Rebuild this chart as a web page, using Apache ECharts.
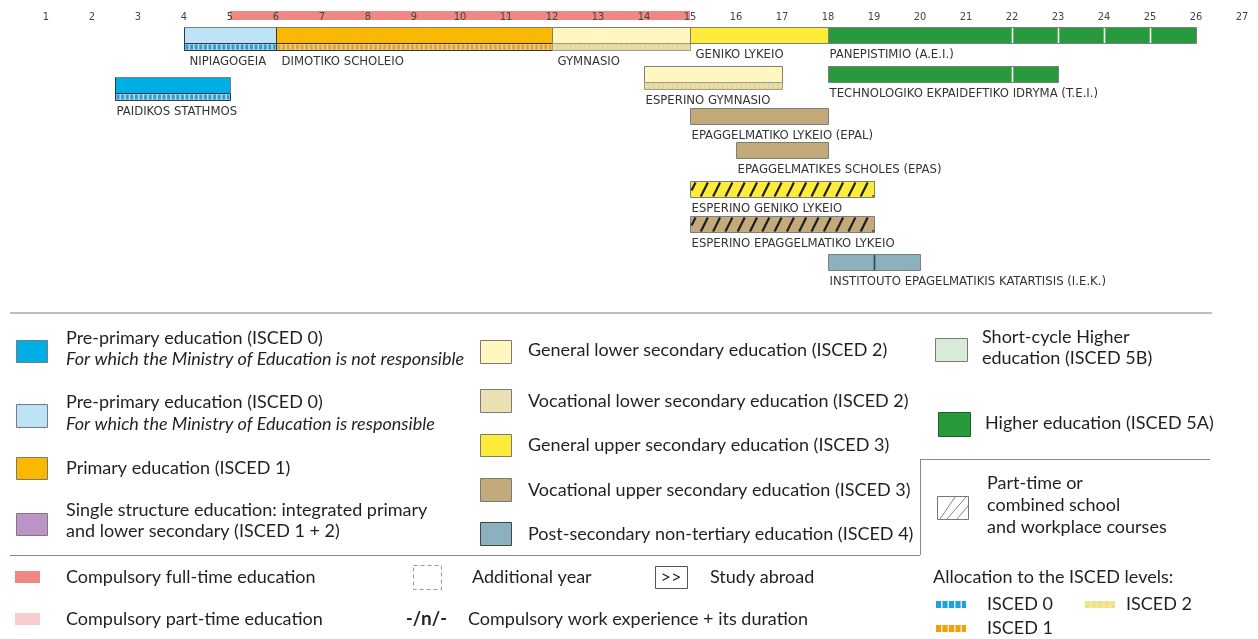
<!DOCTYPE html>
<html>
<head>
<meta charset="utf-8">
<script src="https://cdn.jsdelivr.net/npm/echarts@6/dist/echarts.min.js"></script>
<style>
  html, body { margin: 0; padding: 0; background: #fff; }
  #main { width: 1258px; height: 639px; }
</style>
</head>
<body>
<div id="main"></div>
<script>
// ages along the top axis
const ageLabels = ['1','2','3','4','5','6','7','8','9','10','11','12','13','14','15','16','17','18','19','20','21','22','23','24','25','26','27'];

// programmes (start age, end age, lane, ISCED level)
const programmes = [
  'NIPIAGOGEIA', 'DIMOTIKO SCHOLEIO', 'GYMNASIO', 'GENIKO LYKEIO', 'PANEPISTIMIO (A.E.I.)',
  'PAIDIKOS STATHMOS', 'ESPERINO GYMNASIO', 'TECHNOLOGIKO EKPAIDEFTIKO IDRYMA (T.E.I.)',
  'EPAGGELMATIKO LYKEIO (EPAL)', 'EPAGGELMATIKES SCHOLES (EPAS)', 'ESPERINO GENIKO LYKEIO',
  'ESPERINO EPAGGELMATIKO LYKEIO', 'INSTITOUTO EPAGELMATIKIS KATARTISIS (I.E.K.)'
];
const startAge = [4, 6, 12, 15, 18, 2.5, 14, 18, 15, 16, 15, 15, 18];
const endAge   = [6, 12, 15, 18, 26, 5, 17, 23, 18, 18, 19, 19, 20];
const lane     = [27, 27, 27, 27, 27, 77, 66, 66, 108, 142, 181, 216, 254];
const level    = ['0r', '1', '2g', '3g', '5a', '0n', '2g', '5a', '3v', '3v', '3g', '3v', '4'];
const allocation = ['0', '1', '2', '', '', '0', '2', '', '', '', '', '', ''];
const partTime = [0, 0, 0, 0, 0, 0, 0, 0, 0, 0, 1, 1, 0];
const yearMarks = [[], [], [], [], [22, 23, 24, 25], [], [], [22], [], [], [], [], [19]];

// compulsory full-time education
const compulsoryFull = [5, 15];

const fills = {
  '0n': '#00aee6', '0r': '#bde4f6', '1': '#fbb800', '12': '#bd94c7',
  '2g': '#fff7bf', '2v': '#ebdfb4', '3g': '#ffec3a', '3v': '#c2aa7b',
  '4': '#8ab1bd', '5b': '#d8ebd8', '5a': '#279b3c'
};
const dashColor = { '0': '#1aa3de', '1': '#f2a200', '2': '#f4e27c' };
const dashBorder = { '0': '#2b3a44', '1': '#3b3222', '2': '#a09c88' };

const BAR_H = 16, STRIPE_H = 7;

function hatchLines(x1, x2, y1, y2) {
  const h = y2 - y1, dx = h * 0.5, step = 12.3;
  const out = [];
  for (let xs = x1 - dx + 4; xs < x2; xs += step) {
    let ax = xs, ay = y2, bx = xs + dx, by = y1;
    if (ax < x1) { ay = y2 - (x1 - ax) / dx * h; ax = x1; }
    if (bx > x2) { by = y2 - (x2 - xs) / dx * h; bx = x2; }
    out.push({ type: 'line', shape: { x1: ax, y1: ay, x2: bx, y2: by },
      style: { stroke: '#1e1e1e', lineWidth: 2.2 } });
  }
  return out;
}

function renderProgramme(params, api) {
  const i = params.dataIndex;
  const a = api.coord([api.value(0), api.value(2)]);
  const b = api.coord([api.value(1), api.value(2)]);
  const x1 = Math.round(a[0]) + 0.5, x2 = Math.round(b[0]) + 0.5, y = Math.round(a[1]) + 0.5;
  const w = x2 - x1;
  const kids = [];
  kids.push({ type: 'rect', shape: { x: x1, y: y, width: w, height: BAR_H },
    style: { fill: fills[level[i]], stroke: '#7d7d7d', lineWidth: 1 } });
  if (partTime[i]) kids.push(...hatchLines(x1 + 1, x2 - 1, y + 1, y + BAR_H - 1));
  yearMarks[i].forEach(function (age) {
    const px = Math.round(api.coord([age, 0])[0]) + 0.5;
    kids.push({ type: 'line', shape: { x1: px, y1: y + 0.5, x2: px, y2: y + BAR_H - 0.5 },
      style: { stroke: level[i] === '4' ? '#2f4650' : '#ffffff', lineWidth: 1.6 } });
  });
  let bottom = y + BAR_H;
  const al = allocation[i];
  if (al) {
    kids.push({ type: 'rect', shape: { x: x1, y: bottom, width: w, height: STRIPE_H },
      style: { fill: '#d2d2d2', stroke: dashBorder[al], lineWidth: 1 } });
    kids.push({ type: 'line', shape: { x1: x1 + 1, y1: bottom + 3.5, x2: x2 - 1, y2: bottom + 3.5 },
      style: { stroke: dashColor[al], lineWidth: 5, lineDash: [3, 1.6] } });
    if (al !== '2') {
      kids.push({ type: 'line', shape: { x1: x1, y1: y, x2: x1, y2: bottom + STRIPE_H },
        style: { stroke: dashBorder[al], lineWidth: 1 } });
    }
    bottom += STRIPE_H;
  }
  const indent = api.value(2) < 40 && api.value(0) < 18 ? 5 : 1;
  kids.push({ type: 'text', x: x1 + indent, y: bottom + 11,
    style: { text: programmes[i], font: '13px "DejaVu Sans Condensed", "DejaVu Sans"', fill: '#333',
      verticalAlign: 'middle' } });
  return { type: 'group', children: kids };
}

function renderBand(params, api) {
  const a = api.coord([api.value(0), api.value(2)]);
  const b = api.coord([api.value(1), api.value(2)]);
  return { type: 'rect', shape: { x: a[0], y: a[1], width: b[0] - a[0], height: 9 },
    style: { fill: '#ef8783' } };
}

// ---- legend (drawn as static graphics) ----
const LF = '18px Lato';
const LFI = 'italic 18px Lato';
const TXT = '#231f20';
const g = [];
function box(x, y, w, h, fill, stroke) {
  g.push({ type: 'rect', shape: { x: x + 0.5, y: y + 0.5, width: w, height: h },
    style: { fill: fill, stroke: stroke || '#7a7a7a', lineWidth: 1 } });
}
function txt(x, y, t, font) {
  g.push({ type: 'text', x: x, y: y, style: { text: t, font: font || LF, fill: TXT, verticalAlign: 'middle' } });
}
function hline(x1, x2, y, c, lw) {
  g.push({ type: 'line', shape: { x1: x1, y1: y, x2: x2, y2: y }, style: { stroke: c, lineWidth: lw } });
}
function vline(x, y1, y2, c, lw) {
  g.push({ type: 'line', shape: { x1: x, y1: y1, x2: x, y2: y2 }, style: { stroke: c, lineWidth: lw } });
}
function miniStripe(x, y, col) {
  g.push({ type: 'rect', shape: { x: x, y: y, width: 30, height: 7 }, style: { fill: '#e6e6e6' } });
  g.push({ type: 'line', shape: { x1: x, y1: y + 3.5, x2: x + 30, y2: y + 3.5 },
    style: { stroke: col, lineWidth: 7, lineDash: [5, 1.5] } });
}

hline(10, 1212, 313, '#bdbdbd', 2);
hline(10, 920, 555.5, '#8a8a8a', 1);
vline(920.5, 459, 555, '#8a8a8a', 1);
hline(920, 1210, 459.5, '#8a8a8a', 1);

box(16, 340, 31, 22, fills['0n']);
txt(66, 338, 'Pre-primary education (ISCED 0)');
txt(66, 359, 'For which the Ministry of Education is not responsible', LFI);
box(16, 404, 31, 23, fills['0r']);
txt(66, 402, 'Pre-primary education (ISCED 0)');
txt(66, 424, 'For which the Ministry of Education is responsible', LFI);
box(16, 457, 31, 22, fills['1']);
txt(66, 468, 'Primary education (ISCED 1)');
box(16, 513, 31, 22, fills['12']);
txt(66, 510, 'Single structure education: integrated primary');
txt(66, 531, 'and lower secondary (ISCED 1 + 2)');

box(480, 340, 31, 23, fills['2g']);
txt(528, 350, 'General lower secondary education (ISCED 2)');
box(480, 389, 31, 23, fills['2v']);
txt(528, 401, 'Vocational lower secondary education (ISCED 2)');
box(480, 434, 31, 22, fills['3g']);
txt(528, 445, 'General upper secondary education (ISCED 3)');
box(480, 478, 31, 23, fills['3v']);
txt(528, 490, 'Vocational upper secondary education (ISCED 3)');
box(480, 522, 31, 23, fills['4'], '#444');
txt(528, 534, 'Post-secondary non-tertiary education (ISCED 4)');

box(935, 338, 32, 23, fills['5b']);
txt(982, 337, 'Short-cycle Higher');
txt(982, 358, 'education (ISCED 5B)');
box(938, 412, 32, 24, fills['5a'], '#1d5e2a');
txt(985, 423, 'Higher education (ISCED 5A)');
box(937, 496, 31, 23, '#fff', '#777');
[[940, 519, 955, 497], [947, 519, 966, 497], [957, 519, 968, 506]].forEach(function (l) {
  g.push({ type: 'line', shape: { x1: l[0], y1: l[1], x2: l[2], y2: l[3] }, style: { stroke: '#888', lineWidth: 1 } });
});
txt(987, 483, 'Part-time or');
txt(987, 505, 'combined school');
txt(987, 527, 'and workplace courses');

g.push({ type: 'rect', shape: { x: 15, y: 571, width: 25, height: 12 }, style: { fill: '#ef8783' } });
txt(66, 577, 'Compulsory full-time education');
g.push({ type: 'rect', shape: { x: 15, y: 613, width: 25, height: 12 }, style: { fill: '#f9ccd0' } });
txt(66, 619, 'Compulsory part-time education');

g.push({ type: 'rect', shape: { x: 413.5, y: 565.5, width: 28, height: 24 },
  style: { fill: 'none', stroke: '#999', lineWidth: 1, lineDash: [4, 3] } });
txt(472, 577, 'Additional year');
g.push({ type: 'text', x: 406, y: 619, style: { text: '{a|-/}{b|n}{a|/-}', fill: TXT, verticalAlign: 'middle',
  rich: { a: { font: 'bold 18px Lato', fill: TXT }, b: { font: 'bold 19px Lato', fill: TXT } } } });
txt(468, 619, 'Compulsory work experience + its duration');

box(655, 566, 32, 22, '#fff', '#555');
g.push({ type: 'text', x: 671, y: 577, style: { text: '>>', font: LF, fill: TXT, align: 'center', verticalAlign: 'middle' } });
txt(710, 577, 'Study abroad');

txt(933, 577, 'Allocation to the ISCED levels:');
miniStripe(936, 601, '#1aa3de');
txt(987, 604, 'ISCED 0');
miniStripe(1085, 601, '#f4e27c');
txt(1126, 604, 'ISCED 2');
miniStripe(936, 625, '#f2a200');
txt(987, 628, 'ISCED 1');

const chart = echarts.init(document.getElementById('main'), null, { renderer: 'canvas' });
chart.setOption({
  animation: false,
  backgroundColor: '#fff',
  grid: { left: 0, right: 16, top: 0, bottom: 0 },
  xAxis: {
    type: 'value', position: 'top', min: 0, max: 27, interval: 1, z: 10,
    axisLine: { show: false }, axisTick: { show: false }, splitLine: { show: false },
    axisLabel: {
      inside: true, margin: 17, verticalAlign: 'middle',
      color: '#444', fontSize: 11, fontFamily: '"DejaVu Sans Condensed", "DejaVu Sans"',
      showMinLabel: false,
      formatter: function (v) { return ageLabels[v - 1] || ''; }
    }
  },
  yAxis: { type: 'value', min: 0, max: 639, inverse: true, show: false },
  series: [
    {
      type: 'custom', name: 'Compulsory', renderItem: renderBand, z: 1,
      data: [[compulsoryFull[0], compulsoryFull[1], 11]]
    },
    {
      type: 'custom', name: 'Programmes', renderItem: renderProgramme, z: 2,
      data: programmes.map(function (p, i) { return [startAge[i], endAge[i], lane[i]]; })
    }
  ],
  graphic: { elements: g }
});
</script>
</body>
</html>
